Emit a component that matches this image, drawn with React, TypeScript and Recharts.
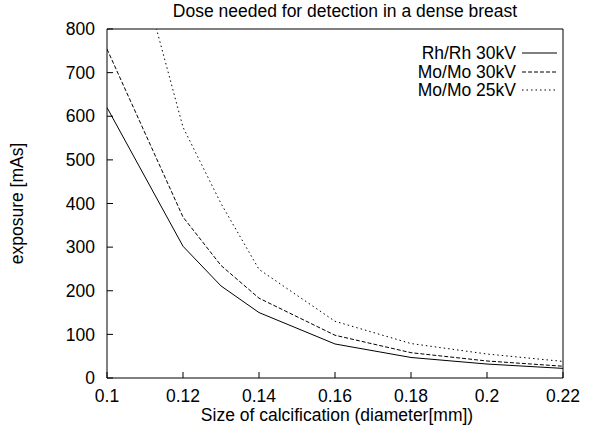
import { LineChart, Line, XAxis, YAxis, Legend } from 'recharts'

// calcification diameter [mm]
const sizes = [0.1, 0.12, 0.13, 0.14, 0.16, 0.18, 0.2, 0.22]
// exposure [mAs] per target/filter + tube voltage
const rhRh30 = [620, 302, 211, 150, 78, 47, 32, 22]
const moMo30 = [754, 369, 258, 183, 98, 58, 39, 27]
const moMo25 = [1220, 575, 400, 249, 130, 79, 55, 38]

const seriesNames = ['Rh/Rh 30kV', 'Mo/Mo 30kV', 'Mo/Mo 25kV']
const seriesDash = ['', '4 2', '1.5 3']

const xTicks = [0.1, 0.12, 0.14, 0.16, 0.18, 0.2, 0.22]
const yTicks = [0, 100, 200, 300, 400, 500, 600, 700, 800]

const FONT = '"Liberation Sans", Arial, Helvetica, sans-serif'
const FS = 17.5

const data = sizes.map((s, i) => ({
  size: s,
  rh30: rhRh30[i],
  mo30: moMo30[i],
  mo25: moMo25[i],
}))

const tickStyle = { fontSize: FS, fill: '#000', fontFamily: FONT }

const renderLegend = () => (
  <div style={{ fontFamily: FONT, fontSize: FS, color: '#000' }}>
    {seriesNames.map((name, i) => (
      <div
        key={name}
        style={{
          display: 'flex',
          justifyContent: 'flex-end',
          alignItems: 'center',
          height: 18.5,
          lineHeight: '18.5px',
        }}
      >
        <span>{name}</span>
        <svg width={41} height={10} style={{ display: 'block' }}>
          <line
            x1={6}
            x2={41}
            y1={5}
            y2={5}
            stroke="#000"
            strokeWidth={1}
            strokeDasharray={seriesDash[i] || undefined}
          />
        </svg>
      </div>
    ))}
  </div>
)

export default function App() {
  return (
    <div style={{ position: 'fixed', left: 0, top: 0, background: '#fff' }}>
      <LineChart
        width={593}
        height={427}
        data={data}
        margin={{ top: 0, right: 0, bottom: 0, left: 0 }}
      >
        <XAxis
          xAxisId="bottom"
          dataKey="size"
          type="number"
          domain={[0.1, 0.22]}
          ticks={xTicks}
          tickFormatter={(v) => String(v)}
          height={49}
          tick={tickStyle}
          tickSize={-6}
          tickMargin={18}
          stroke="#000"
          axisLine={{ stroke: '#000' }}
          tickLine={{ stroke: '#000' }}
          allowDataOverflow
          label={{
            content: ({ viewBox }: any) => (
              <text
                x={viewBox.x + viewBox.width / 2 + 2}
                y={421}
                textAnchor="middle"
                fontSize={FS}
                fontFamily={FONT}
                fill="#000"
              >
                Size of calcification (diameter[mm])
              </text>
            ),
          }}
        />
        <XAxis
          xAxisId="top"
          orientation="top"
          dataKey="size"
          type="number"
          domain={[0.1, 0.22]}
          ticks={xTicks}
          height={29}
          tick={false}
          tickSize={-6}
          stroke="#000"
          allowDataOverflow
          label={{
            content: ({ viewBox }: any) => (
              <text
                x={viewBox.x + viewBox.width / 2 + 10}
                y={17}
                textAnchor="middle"
                fontSize={FS}
                fontFamily={FONT}
                fill="#000"
              >
                Dose needed for detection in a dense breast
              </text>
            ),
          }}
        />
        <YAxis
          yAxisId="left"
          type="number"
          domain={[0, 800]}
          ticks={yTicks}
          width={107}
          tick={tickStyle}
          tickSize={-6}
          tickMargin={18}
          stroke="#000"
          allowDataOverflow
          label={{
            content: ({ viewBox }: any) => {
              const cy = viewBox.y + viewBox.height / 2
              return (
                <text
                  x={23}
                  y={cy}
                  transform={`rotate(-90, 23, ${cy})`}
                  textAnchor="middle"
                  fontSize={FS}
                  fontFamily={FONT}
                  fill="#000"
                >
                  exposure [mAs]
                </text>
              )
            },
          }}
        />
        <YAxis
          yAxisId="right"
          orientation="right"
          type="number"
          domain={[0, 800]}
          ticks={yTicks}
          width={30}
          tick={false}
          tickSize={-6}
          stroke="#000"
          allowDataOverflow
        />
        <Legend
          layout="horizontal"
          verticalAlign="middle"
          align="center"
          content={renderLegend}
          wrapperStyle={{ left: 397, top: 44, width: 160 }}
        />
        <Line
          xAxisId="bottom"
          yAxisId="left"
          type="linear"
          dataKey="rh30"
          name={seriesNames[0]}
          stroke="#000"
          strokeWidth={1}
          dot={false}
          isAnimationActive={false}
        />
        <Line
          xAxisId="bottom"
          yAxisId="left"
          type="linear"
          dataKey="mo30"
          name={seriesNames[1]}
          stroke="#000"
          strokeWidth={1}
          strokeDasharray={seriesDash[1]}
          dot={false}
          isAnimationActive={false}
        />
        <Line
          xAxisId="bottom"
          yAxisId="left"
          type="linear"
          dataKey="mo25"
          name={seriesNames[2]}
          stroke="#000"
          strokeWidth={1}
          strokeDasharray={seriesDash[2]}
          dot={false}
          isAnimationActive={false}
        />
      </LineChart>
    </div>
  )
}
